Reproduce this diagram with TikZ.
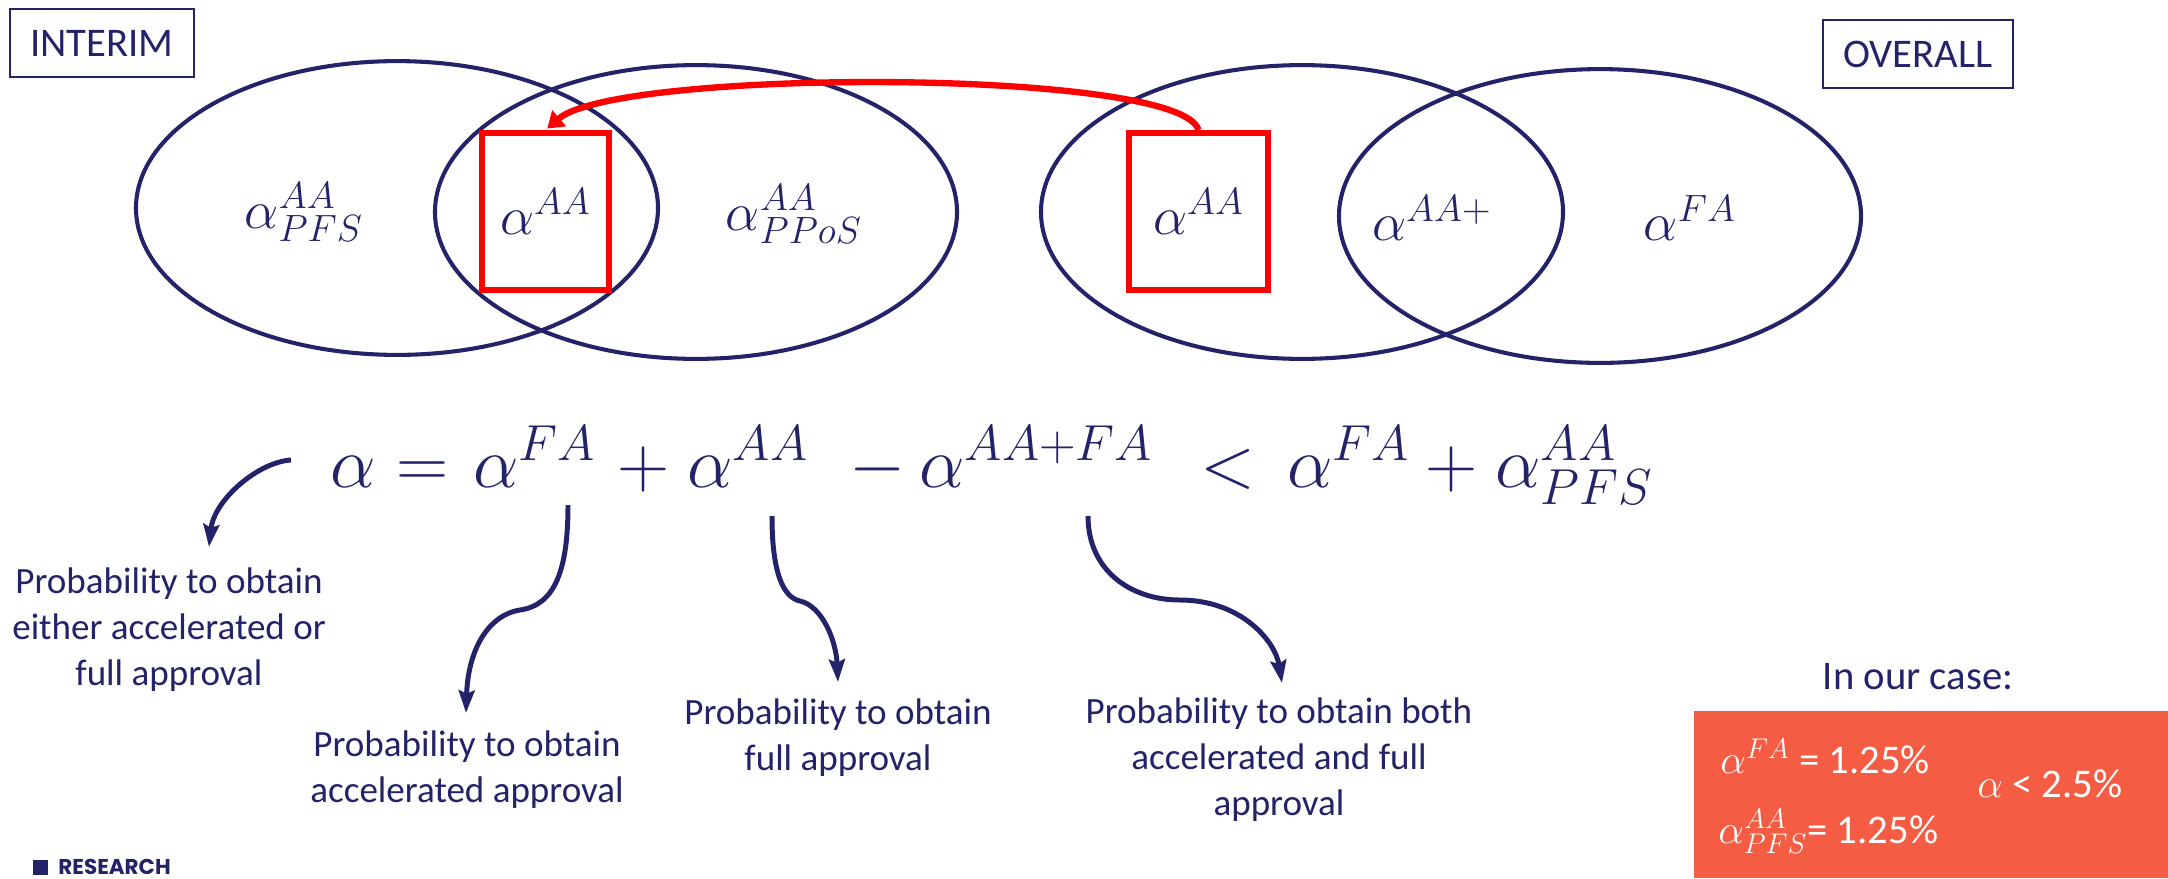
\RequirePackage{fix-cm}
\documentclass[tikz,border=0pt]{standalone}
\usepackage[no-math]{fontspec}
\setmainfont{Carlito}
\newfontfamily\resfont{Poppins}
\usetikzlibrary{shapes.geometric,arrows.meta}
\definecolor{navy}{RGB}{36,34,104}
\definecolor{redc}{RGB}{255,0,0}
\definecolor{orangebox}{RGB}{244,93,67}
\tikzset{
  venn/.style={ellipse, draw=navy, line width=1.8pt, minimum width=231pt, minimum height=130pt, inner sep=0pt},
  lab/.style={text=navy, font=\fontsize{24}{28}\selectfont, inner sep=0pt},
  redbox/.style={draw=redc, line width=2.6pt, inner sep=0pt, text=navy, font=\fontsize{24}{28}\selectfont},
  redarrow/.style={draw=redc, line width=2.8pt, -{Triangle[length=7pt,width=9pt]}},
  navarrow/.style={draw=navy, line width=2.2pt, -{Stealth[length=10pt,width=7pt,inset=1.5pt]}},
  eqpart/.style={anchor=base west, inner sep=0pt, text=navy, font=\fontsize{32}{38}\selectfont},
  expl/.style={text=navy, align=center, inner sep=0pt, font=\fontsize{16.4}{20.4}\selectfont},
  tagbox/.style={draw=navy, line width=0.8pt, text=navy, minimum height=30pt, font=\fontsize{18}{22}\selectfont},
  boxtxt/.style={anchor=base west, inner sep=0pt, text=white, font=\fontsize{18}{22}\selectfont}
}
\begin{document}
\begin{tikzpicture}[x=0.4425pt,y=-0.4425pt]
\useasboundingbox (0,0) rectangle (2168,878);

% tags
\node[tagbox, minimum width=81.4pt] (interim) at (102,43) {INTERIM};
\node[tagbox, minimum width=84pt] (overall) at (1918,54) {OVERALL};

% venn diagrams
\node[venn] (e1) at (397,208) {};
\node[venn] (e2) at (696,212) {};
\node[venn] (e3) at (1302,212) {};
\node[venn] (e4) at (1600,216) {};

\node[lab] (l1) at (304,212) {$\alpha^{AA}_{PFS}$};
\node[lab] (l3) at (794,214) {$\alpha^{AA}_{PPoS}$};
\node[lab] (l5) at (1432,218) {$\alpha^{AA+}$};
\node[lab] (l6) at (1690,218) {$\alpha^{FA}$};

\node[redbox, minimum width=56.2pt, minimum height=69.5pt] (r1) at (545.5,211.5) {$\alpha^{AA}$};
\node[redbox, minimum width=61.5pt, minimum height=69.5pt] (r2) at (1198.5,211.5) {$\alpha^{AA}$};

\draw[redarrow, shorten >=1pt] (r2.north) .. controls +(-17,-62) and +(72,-62) .. (r1.north);

% equation
\node[eqpart] (q1) at (330,487) {$\alpha$};
\node[eqpart] (q2) at (396,487) {$=$};
\node[eqpart] (q3) at (473,487) {$\alpha^{FA}$};
\node[eqpart] (q4) at (617,487) {$+$};
\node[eqpart] (q5) at (687,487) {$\alpha^{AA}$};
\node[eqpart] (q6) at (849,487) {$-$};
\node[eqpart] (q7) at (919,487) {$\alpha^{AA+FA}$};
\node[eqpart] (q8) at (1200,487) {$<$};
\node[eqpart] (q9) at (1287,487) {$\alpha^{FA}$};
\node[eqpart] (q10) at (1425,487) {$+$};
\node[eqpart] (q11) at (1495,487) {$\alpha^{AA}_{PFS}$};

% explanations
\node[expl] (t1) at (169,630) {Probability to obtain\\either accelerated or\\full approval};
\node[expl] (t2) at (467,770) {Probability to obtain\\accelerated approval};
\node[expl] (t3) at (838,738) {Probability to obtain\\full approval};
\node[expl] (t4) at (1279,760) {Probability to obtain both\\accelerated and full\\approval};

\coordinate (s1) at (291,460);
\coordinate (h1) at (209,547);
\coordinate (s2) at (568,505);
\coordinate (h2) at (466,713);
\coordinate (s3) at (772,516);
\coordinate (h3) at (838,682);
\coordinate (s4) at (1088,516);
\coordinate (h4) at (1282,683);

\draw[navarrow] (s1) .. controls (258,462) and (214,500) .. (h1);
\draw[navarrow] (s2) .. controls (568,570) and (555,605) .. (520,610) .. controls (488,615) and (468,650) .. (h2);
\draw[navarrow] (s3) .. controls (772,570) and (782,597) .. (800,601) .. controls (822,606) and (836,640) .. (h3);
\draw[navarrow] (s4) .. controls (1088,570) and (1130,600) .. (1180,600) .. controls (1240,600) and (1275,640) .. (h4);

% our case
\node[text=navy, inner sep=0pt, font=\fontsize{18}{22}\selectfont] (case) at (1918,677) {In our case:};
\node[fill=orangebox, inner sep=0pt, minimum width=209.7pt, minimum height=73.9pt, anchor=north west] (ob) at (1694,711) {};
\node[boxtxt] (v1) at (1720,773) {$\alpha^{FA}$ = 1.25\%};
\node[boxtxt] (v2) at (1718,843) {$\alpha^{AA}_{PFS}$= 1.25\%};
\node[boxtxt] (v3) at (1977,797) {$\alpha$ < 2.5\%};

% footer
\node[fill=navy, inner sep=0pt, minimum size=6.6pt] (sq) at (40.5,867.5) {};
\node[anchor=west, inner sep=0pt, text=navy, font=\resfont\bfseries\fontsize{9.5}{11}\selectfont] (res) at (58,867) {RESEARCH};
\end{tikzpicture}
\end{document}
